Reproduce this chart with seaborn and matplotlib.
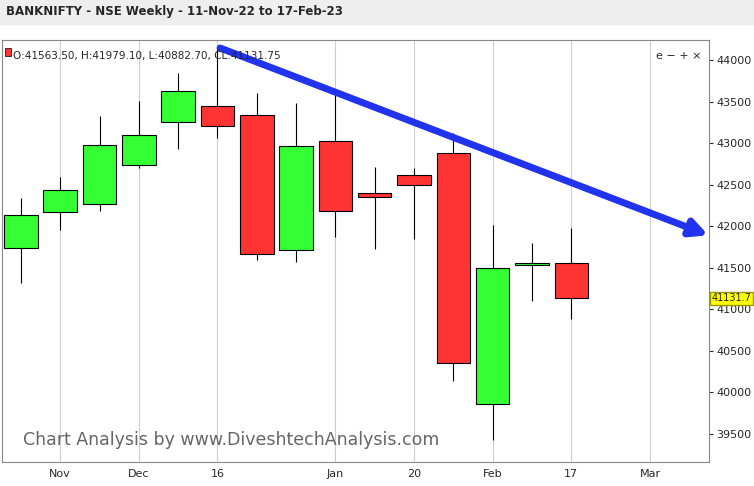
import matplotlib
matplotlib.use("Agg")
import matplotlib.pyplot as plt
import seaborn as sns
import numpy as np
import pandas as pd

opens  = [41738, 42171, 42268, 42737, 43254, 43447, 43338, 41714, 43025, 42400, 42617, 42881, 39862, 41534, 41563.5]
highs  = [42340, 42592, 43326, 43507, 43844, 44156, 43603, 43483, 43579, 42713, 42701, 43122, 42015, 41798, 41979.1]
lows   = [41317, 41955, 42184, 42700, 42929, 43062, 41594, 41570, 41871, 41726, 41847, 40138, 39429, 41100, 40882.7]
closes = [42135, 42436, 42977, 43098, 43627, 43206, 41666, 42965, 42184, 42352, 42496, 40355, 41498, 41558, 41131.75]
tick_pos = [1, 3, 5, 8, 10, 12, 14, 16]
tick_labels = ["Nov", "Dec", "16", "Jan", "20", "Feb", "17", "Mar"]
yticks = [39500, 40000, 40500, 41000, 41500, 42000, 42500, 43000, 43500, 44000]

df = pd.DataFrame({"o": opens, "h": highs, "l": lows, "c": closes})
df["x"] = np.arange(len(df))

sns.set_style("white")
fig = plt.figure(figsize=(7.54, 4.86), dpi=100)
fig.patch.set_facecolor("white")
ax = fig.add_axes([2/754, 24/486, 707/754, 422/486])

for _, r in df.iterrows():
    up = r.c >= r.o
    col = "#33ff33" if up else "#ff3333"
    ax.vlines(r.x, r.l, r.h, color="black", lw=0.8, zorder=2)
    lo, hi = min(r.o, r.c), max(r.o, r.c)
    ax.bar(r.x, max(hi - lo, 8), bottom=lo, width=0.85, color=col, edgecolor="black", lw=0.8, zorder=3)

ax.set_xlim(-0.48, 17.5)
ax.set_ylim(39164, 44240)
ax.set_xticks(tick_pos)
ax.set_xticklabels(tick_labels, fontsize=8)
ax.yaxis.tick_right()
ax.set_yticks(yticks)
ax.set_yticklabels([str(v) for v in yticks], fontsize=8)
ax.xaxis.grid(True, color="#cccccc", lw=0.8)
ax.tick_params(axis="both", length=3, pad=2)
for s in ax.spines.values():
    s.set_color("#888888")

ax.annotate("", xy=(17.55, 41880), xytext=(5, 44156), annotation_clip=False,
            arrowprops=dict(arrowstyle="-|>,head_length=1.0,head_width=0.5", color="#2233ee", lw=5))
ax.text(0.03, 0.04, "Chart Analysis by www.DiveshtechAnalysis.com", transform=ax.transAxes,
        fontsize=12.5, color="#666666")
ax.text(1.004, 41131.75, "41131.7", transform=ax.get_yaxis_transform(), fontsize=7, va="center",
        bbox=dict(facecolor="#ffff00", edgecolor="#999900", pad=1.0), clip_on=False)
ax.text(0.015, 0.975, "O:41563.50, H:41979.10, L:40882.70, CL:41131.75", transform=ax.transAxes,
        fontsize=7.5, va="top")
ax.add_patch(plt.Rectangle((0.004, 0.962), 0.009, 0.02, transform=ax.transAxes, color="#ff3333", ec="black", lw=0.5))
ax.text(0.99, 0.975, "e − + ×", transform=ax.transAxes, fontsize=8, ha="right", va="top")

fig.patches.append(plt.Rectangle((0, 462/486), 1, 24/486, transform=fig.transFigure, color="#eeeeee", zorder=0))
fig.text(6/754, 474/486, "BANKNIFTY - NSE Weekly - 11-Nov-22 to 17-Feb-23", fontsize=8.5, fontweight="bold", va="center")

fig.savefig("out.png", dpi=100)
